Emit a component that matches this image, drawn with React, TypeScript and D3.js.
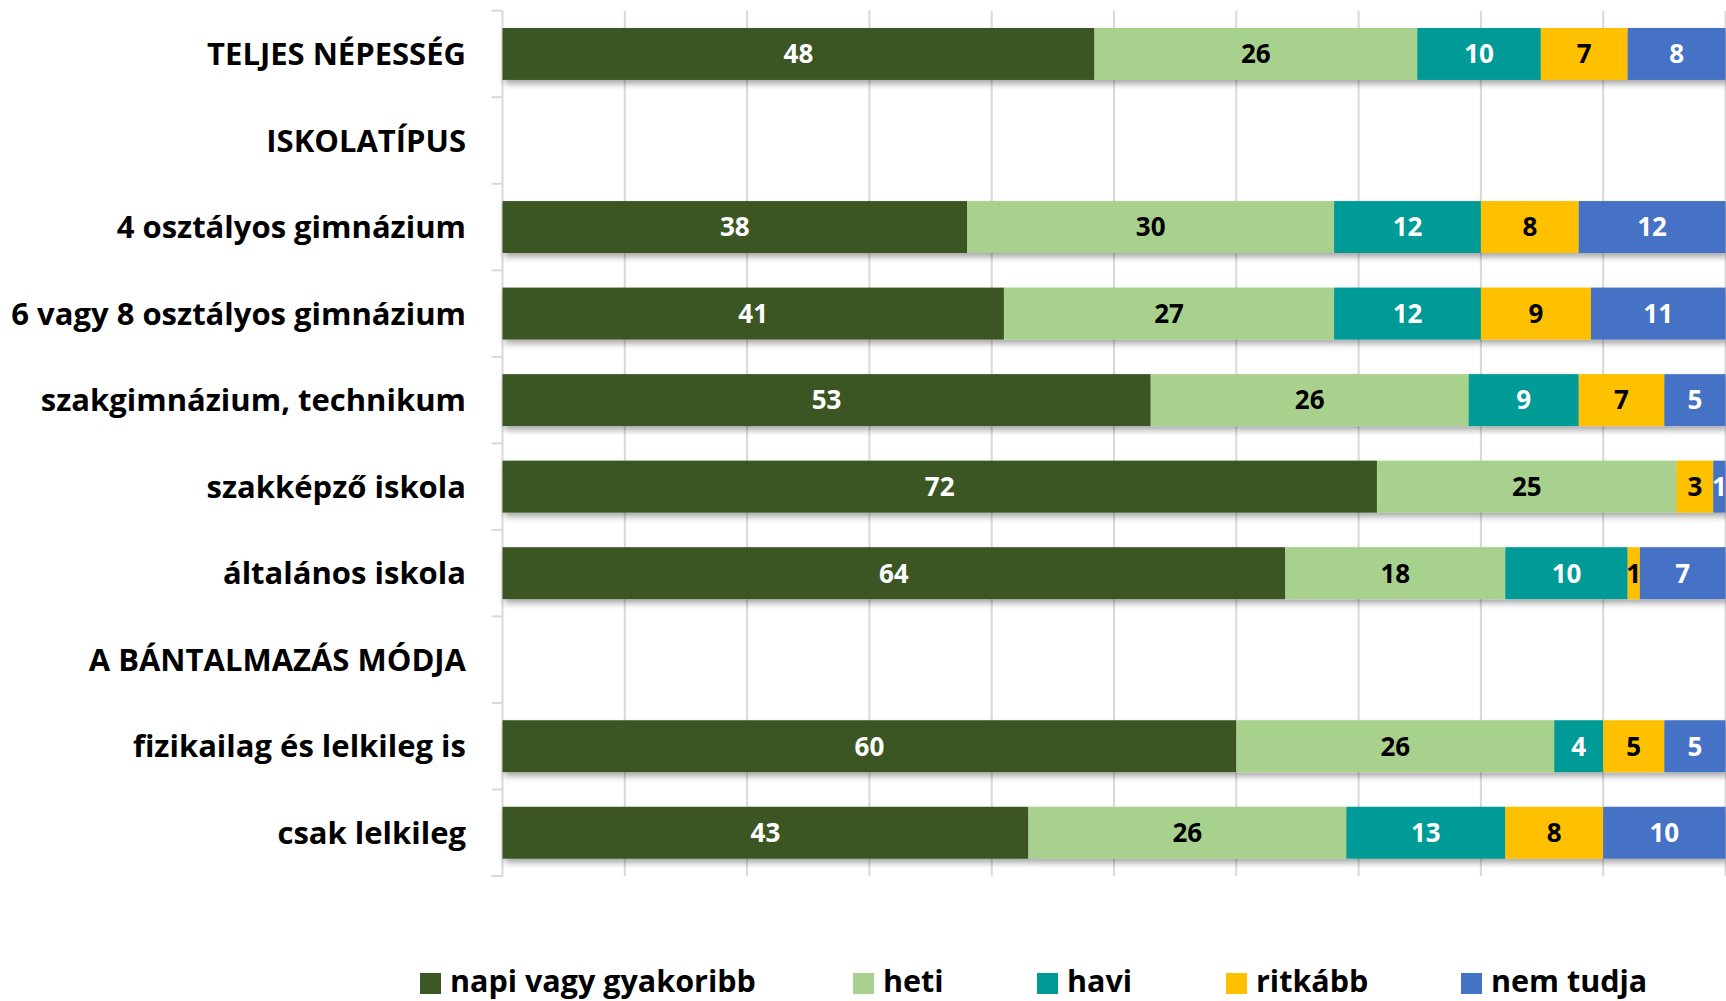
import React, { useEffect, useRef } from "react";
import * as d3 from "d3";

const categories = [
  "TELJES NÉPESSÉG",
  "ISKOLATÍPUS",
  "4 osztályos gimnázium",
  "6 vagy 8 osztályos gimnázium",
  "szakgimnázium, technikum",
  "szakképző iskola",
  "általános iskola",
  "A BÁNTALMAZÁS MÓDJA",
  "fizikailag és lelkileg is",
  "csak lelkileg",
];
const napi = [48.4, null, 38, 41, 53, 71.5, 64, null, 60, 43];
const heti = [26.4, null, 30, 27, 26, 24.5, 18, null, 26, 26];
const havi = [10.1, null, 12, 12, 9, 0, 10, null, 4, 13];
const ritkabb = [7.1, null, 8, 9, 7, 3, 1, null, 5, 8];
const nemTudja = [8.0, null, 12, 11, 5, 1, 7, null, 5, 10];

const seriesNames = ["napi vagy gyakoribb", "heti", "havi", "ritkább", "nem tudja"];
const seriesKeys = ["napi", "heti", "havi", "ritkabb", "nemTudja"];
const seriesColors = ["#3A5724", "#A9D18E", "#009A97", "#FFC000", "#4472C4"];
const labelColors = ["#ffffff", "#000000", "#ffffff", "#000000", "#ffffff"];
const xTicks = [10, 20, 30, 40, 50, 60, 70, 80, 90, 100];

const W = 1726;
const H = 1001;
const FONT = "'Open Sans', Lato, sans-serif";

export default function App() {
  const ref = useRef<SVGSVGElement | null>(null);

  useEffect(() => {
    const svg = d3.select(ref.current);
    svg.selectAll("*").remove();

    const rows = categories.map((c, i) => ({
      cat: c,
      napi: napi[i] ?? 0,
      heti: heti[i] ?? 0,
      havi: havi[i] ?? 0,
      ritkabb: ritkabb[i] ?? 0,
      nemTudja: nemTudja[i] ?? 0,
      empty: napi[i] === null,
    }));

    const x = d3.scaleLinear().domain([0, 100]).range([502.5, 1725.5]);
    const y = d3
      .scaleBand<string>()
      .domain(categories)
      .range([10.7, 876])
      .paddingInner(0.4)
      .paddingOuter(0.2);
    const step = y.step();
    const top = 10.7;
    const bottom = 876;

    const defs = svg.append("defs");
    const f = defs
      .append("filter")
      .attr("id", "shadow")
      .attr("x", "-5%")
      .attr("y", "-20%")
      .attr("width", "110%")
      .attr("height", "160%");
    f.append("feDropShadow")
      .attr("dx", 2)
      .attr("dy", 4)
      .attr("stdDeviation", 3)
      .attr("flood-color", "#000")
      .attr("flood-opacity", 0.35);

    svg
      .append("g")
      .selectAll("line")
      .data(xTicks)
      .join("line")
      .attr("x1", (d) => x(d))
      .attr("x2", (d) => x(d))
      .attr("y1", top)
      .attr("y2", bottom)
      .attr("stroke", "#d9d9d9")
      .attr("stroke-width", 2);

    const ax = svg.append("g");
    ax.append("line")
      .attr("x1", x(0))
      .attr("x2", x(0))
      .attr("y1", top)
      .attr("y2", bottom)
      .attr("stroke", "#d9d9d9")
      .attr("stroke-width", 2);
    ax.selectAll("line.t")
      .data(d3.range(categories.length + 1))
      .join("line")
      .attr("class", "t")
      .attr("x1", x(0) - 11)
      .attr("x2", x(0))
      .attr("y1", (i) => top + i * step)
      .attr("y2", (i) => top + i * step)
      .attr("stroke", "#d9d9d9")
      .attr("stroke-width", 2);

    const stack = d3.stack<any>().keys(seriesKeys);
    const stacked = stack(rows as any);

    const barsG = svg.append("g");
    rows.forEach((r, i) => {
      if (r.empty) return;
      const g = barsG.append("g").attr("filter", "url(#shadow)");
      stacked.forEach((s, k) => {
        const seg = s[i];
        const w = x(seg[1]) - x(seg[0]);
        if (w <= 0) return;
        g.append("rect")
          .attr("x", x(seg[0]))
          .attr("y", y(r.cat)!)
          .attr("width", w)
          .attr("height", y.bandwidth())
          .attr("fill", seriesColors[k]);
      });
    });

    const lg = svg.append("g");
    rows.forEach((r, i) => {
      if (r.empty) return;
      stacked.forEach((s, k) => {
        const seg = s[i];
        const v = seg[1] - seg[0];
        if (v <= 0) return;
        lg.append("text")
          .attr("x", (x(seg[0]) + x(seg[1])) / 2)
          .attr("y", y(r.cat)! + y.bandwidth() / 2)
          .attr("dy", "0.36em")
          .attr("text-anchor", "middle")
          .attr("font-family", FONT)
          .attr("font-weight", 700)
          .attr("font-size", 26)
          .attr("fill", labelColors[k])
          .text(String(Math.round(v)));
      });
    });

    svg
      .append("g")
      .selectAll("text")
      .data(categories)
      .join("text")
      .attr("x", 466)
      .attr("y", (d) => y(d)! + y.bandwidth() / 2)
      .attr("dy", "0.36em")
      .attr("text-anchor", "end")
      .attr("font-family", FONT)
      .attr("font-weight", 700)
      .attr("font-size", 31)
      .attr("fill", "#000")
      .text((d) => d);

    const legendX = [420, 853, 1037, 1226, 1461];
    const leg = svg.append("g");
    seriesNames.forEach((n, k) => {
      leg.append("rect")
        .attr("x", legendX[k])
        .attr("y", 973)
        .attr("width", 21)
        .attr("height", 21)
        .attr("fill", seriesColors[k]);
      leg.append("text")
        .attr("x", legendX[k] + 30)
        .attr("y", 981.5)
        .attr("dy", "0.36em")
        .attr("font-family", FONT)
        .attr("font-weight", 700)
        .attr("font-size", 30.5)
        .attr("fill", "#000")
        .text(n);
    });
  }, []);

  return (
    <div style={{ position: "fixed", left: 0, top: 0, width: W, height: H, background: "#fff" }}>
      <svg ref={ref} width={W} height={H} style={{ display: "block" }} />
    </div>
  );
}
